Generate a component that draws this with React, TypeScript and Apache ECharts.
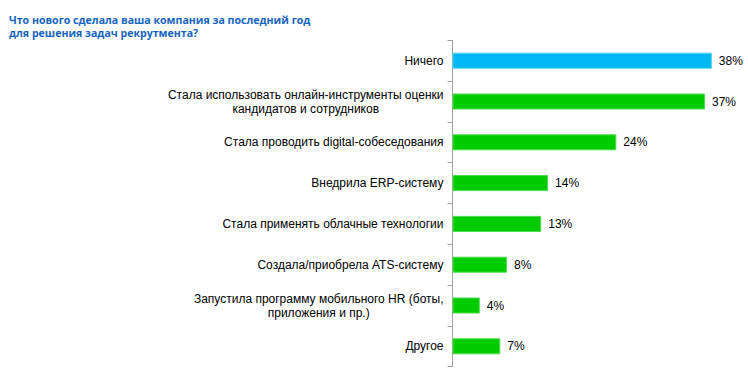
import React, { useEffect, useRef } from "react";
import * as echarts from "echarts";

const titleLines = [
  "Что нового сделала ваша компания за последний год",
  "для решения задач рекрутмента?",
];

const categories = [
  ["Ничего"],
  ["Стала использовать онлайн-инструменты оценки", "кандидатов и сотрудников"],
  ["Стала проводить digital-собеседования"],
  ["Внедрила ERP-систему"],
  ["Стала применять облачные технологии"],
  ["Создала/приобрела ATS-систему"],
  ["Запустила программу мобильного HR (боты,", "приложения и пр.)"],
  ["Другое"],
];

const values = [38, 37, 24, 14, 13, 8, 4, 7];
const highlightIndex = 0;

export default function App() {
  const ref = useRef<HTMLDivElement>(null);
  useEffect(() => {
    if (!ref.current) return;
    const chart = echarts.init(ref.current, null, { renderer: "svg" });
    const catNames = categories.map((c) => c.map((l) => `{c|${l}}`).join("\n"));
    chart.setOption({
      animation: false,
      title: {
        text: titleLines.join("\n"),
        left: 9,
        top: 13,
        padding: 0,
        textStyle: {
          fontFamily: "Open Sans",
          fontSize: 10.6,
          fontWeight: "bold",
          color: "#1565C0",
          lineHeight: 13.5,
        },
      },
      grid: { left: 452.5, right: 22.5, top: 40.3, bottom: 4.3, containLabel: false },
      xAxis: { type: "value", min: 0, max: 40, show: false },
      yAxis: {
        type: "category",
        inverse: true,
        data: catNames,
        axisLine: { show: true, lineStyle: { color: "#A0A0A0", width: 1 } },
        axisTick: { show: true, length: 5, lineStyle: { color: "#A0A0A0" } },
        axisLabel: {
          margin: 9,
          align: "right",
          fontFamily: "Liberation Sans",
          fontSize: 12,
          color: "#000",
          lineHeight: 14,
          rich: {
            c: { align: "center", fontFamily: "Liberation Sans", fontSize: 12, color: "#000", lineHeight: 14 },
          },
        },
      },
      series: [
        {
          type: "bar",
          data: values.map((v, i) => ({
            value: v,
            itemStyle: i === highlightIndex
              ? { color: "#00B9F2", borderColor: "#4FD0F7", borderWidth: 1 }
              : { color: "#00CC00", borderColor: "#4CDD4C", borderWidth: 1 },
          })),
          barWidth: 16,
          label: {
            show: true,
            position: "right",
            distance: 7,
            formatter: "{c}%",
            fontFamily: "Liberation Sans",
            fontSize: 12,
            color: "#000",
          },
        },
      ],
    });
    return () => chart.dispose();
  }, []);
  return (
    <div
      ref={ref}
      style={{ position: "absolute", left: 0, top: 0, width: 748, height: 371 }}
    />
  );
}
